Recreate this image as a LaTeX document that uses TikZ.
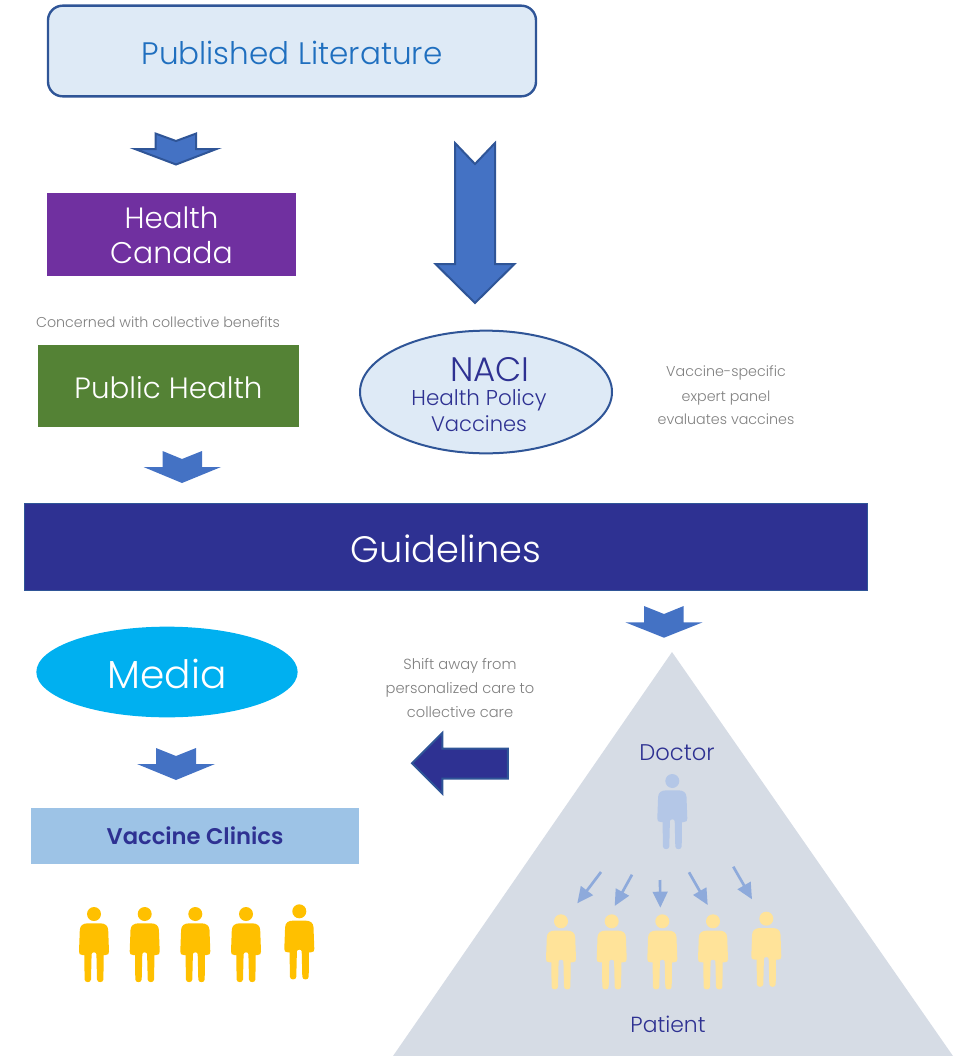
\documentclass[tikz,border=0pt]{standalone}
\usepackage{fontspec}
\usetikzlibrary{arrows.meta,shapes.geometric}
\setmainfont{Poppins Light}
\newfontfamily\semi{Poppins SemiBold}
\newcommand{\fsz}[1]{\fontsize{#1}{#1}\selectfont}
\definecolor{navy}{HTML}{2E3192}
\definecolor{edgeblue}{HTML}{2F5597}
\definecolor{arrowblue}{HTML}{4472C4}
\definecolor{paleblue}{HTML}{DEEAF6}
\definecolor{purplebox}{HTML}{7030A0}
\definecolor{greenbox}{HTML}{548235}
\definecolor{cyanm}{HTML}{00B0F0}
\definecolor{skybox}{HTML}{9DC3E6}
\definecolor{titleblue}{HTML}{1F6FBF}
\definecolor{greytext}{HTML}{7F7F7F}
\definecolor{pyramid}{HTML}{D6DCE5}
\definecolor{gold}{HTML}{FFC000}
\definecolor{palegold}{HTML}{FFE399}
\definecolor{doctorblue}{HTML}{B4C7E7}
\definecolor{thinarrow}{HTML}{8EAADB}
\tikzset{
  x=0.75pt,y=-0.75pt,
  every node/.style={inner sep=0pt,outer sep=0pt,align=center},
  wbox/.style={text=white},
  note/.style={text=greytext,font=\fsz{10.7}},
  blockarrow/.style={fill=arrowblue,draw=edgeblue,line width=1.5pt,line join=miter},
  softarrow/.style={fill=arrowblue,draw=none},
  ptr/.style={draw=thinarrow,line width=2pt,-{Triangle[length=12pt,width=11pt]}},
  person/.pic={
    \path[pic actions] (0,0) circle (7);
    \path[pic actions] (-6,9.3) .. controls (-11,9.3) and (-14,11.5) .. (-14.2,16)
      -- (-15,37.5) .. controls (-15.2,40) and (-14,41) .. (-11.5,41) -- (-9.7,41)
      -- (-9.4,65.5) .. controls (-9.2,69) and (-3.2,69) .. (-3,65.5) -- (-2.4,40)
      .. controls (-2.2,37.8) and (2.2,37.8) .. (2.4,40)
      -- (3,65.5) .. controls (3.2,69) and (9.2,69) .. (9.4,65.5) -- (9.7,41) -- (11.5,41)
      .. controls (14,41) and (15.2,40) .. (15,37.5) -- (14.2,16)
      .. controls (14,11.5) and (11,9.3) .. (6,9.3) -- cycle;
  }
}
\begin{document}
\begin{tikzpicture}
\useasboundingbox (0,0) rectangle (954,1056);
% pyramid
\fill[pyramid] (672,652) -- (953,1056) -- (393,1056) -- cycle;
% boxes
\node[draw=edgeblue,line width=1.8pt,fill=paleblue,rounded corners=11pt,minimum width=366pt,minimum height=68pt] (lit) at (292,51) {};
\node[text=titleblue,font=\fsz{23.3}] (litt) at (292,52.5) {Published Literature};
\node[fill=purplebox,minimum width=186.75pt,minimum height=62.25pt,wbox] (hc) at (171.5,234.5) {};
\node[wbox,font=\fsz{22}] (hct) at (171.5,218) {Health};
\node[wbox,font=\fsz{22.4}] (hct2) at (171.5,253) {Canada};
\node[note] (concern) at (158,322.5) {Concerned with collective benefits};
\node[fill=greenbox,minimum width=195.75pt,minimum height=61.5pt] (ph) at (168.5,386) {};
\node[wbox,font=\fsz{22}] (pht) at (168.5,388) {Public Health};
\node[draw=edgeblue,line width=1.5pt,fill=paleblue,ellipse,minimum width=189pt,minimum height=92pt] (naci) at (486,392) {};
\node[text=navy,font=\fsz{25.5}] (nacit) at (490,369.5) {NACI};
\node[text=navy,font=\fsz{16.1}] (hp) at (479,400) {Health Policy};
\node[text=navy,font=\fsz{15.8}] (vac) at (479,423.5) {Vaccines};
\node[note] (vs1) at (726,373) {Vaccine-specific};
\node[note] (vs2) at (726,398) {expert panel};
\node[note] (vs3) at (726,419) {evaluates vaccines};
\node[fill=navy,draw=edgeblue,line width=1.2pt,minimum width=632pt,minimum height=65pt] (guide) at (446,547) {};
\node[wbox,font=\fsz{27.6}] (guidet) at (446,548.5) {Guidelines};
\node[fill=cyanm,ellipse,minimum width=196pt,minimum height=68pt] (media) at (167,672) {};
\node[wbox,font=\fsz{29.3}] (mediat) at (167,674) {Media};
\node[fill=skybox,minimum width=246pt,minimum height=42pt,text=navy,font=\fsz{17}\semi] (clinics) at (195,836) {Vaccine Clinics};
\node[note,font=\fsz{11}] (sh1) at (460,666) {Shift away from};
\node[note,font=\fsz{11}] (sh2) at (460,690) {personalized care to};
\node[note,font=\fsz{11}] (sh3) at (460,712) {collective care};
\node[text=navy,font=\fsz{17}] (doc) at (677,752.5) {Doctor};
\node[text=navy,font=\fsz{16.4}] (pat) at (668,1024.5) {Patient};
% block arrows
\draw[blockarrow] (155.5,133.5) -- (176,141) -- (196.2,133.5) -- (196.2,149) -- (216.5,149) -- (176,164.5) -- (135,149) -- (155.5,149) -- cycle;
\draw[blockarrow] (455,143) -- (475,164) -- (495,143) -- (495,264) -- (514.5,264) -- (475,303) -- (435.5,264) -- (455,264) -- cycle;
\fill[softarrow] (162.5,451) -- (182,459) -- (202,451) -- (202,467) -- (221,467) -- (182,483) -- (143.5,467) -- (162.5,467) -- cycle;
\fill[softarrow] (644,606) -- (664,614) -- (683.7,606) -- (683.7,622.3) -- (702.7,622.3) -- (664,637.7) -- (625.3,622.3) -- (644,622.3) -- cycle;
\fill[softarrow] (156,748) -- (176,756) -- (196,748) -- (196,764) -- (215,764) -- (176,780) -- (137,764) -- (156,764) -- cycle;
\draw[fill=navy,draw=edgeblue,line width=1.5pt] (412,763.3) -- (442.3,733) -- (442.3,748.5) -- (507.8,748.5) -- (507.8,778.5) -- (442.3,778.5) -- (442.3,793.5) -- cycle;
% people
\foreach \n/\px/\py in {a/94/914,b/144.7/914,c/195.3/914,d/246/914,e/299.3/911.3}
  \pic[fill=gold] (gold\n) at (\px,\py) {person};
\foreach \n/\px/\py in {a/561/921.3,b/611.7/921.3,c/662.3/921.3,d/713/921.3,e/766.3/918.7}
  \pic[fill=palegold] (pat\n) at (\px,\py) {person};
\pic[fill=doctorblue] (doctor) at (672.3,781) {person};
% doctor to patient arrows
\coordinate (s1) at (601,872); \coordinate (t1) at (577.3,903.3);
\coordinate (s2) at (632,874.7); \coordinate (t2) at (614.7,906);
\coordinate (s3) at (660,880); \coordinate (t3) at (660.3,907.7);
\coordinate (s4) at (689,872.3); \coordinate (t4) at (707.7,905);
\coordinate (s5) at (733.3,866.7); \coordinate (t5) at (752,899.3);
\foreach \i in {1,...,5} \draw[ptr] (s\i) -- (t\i);
\end{tikzpicture}
\end{document}
